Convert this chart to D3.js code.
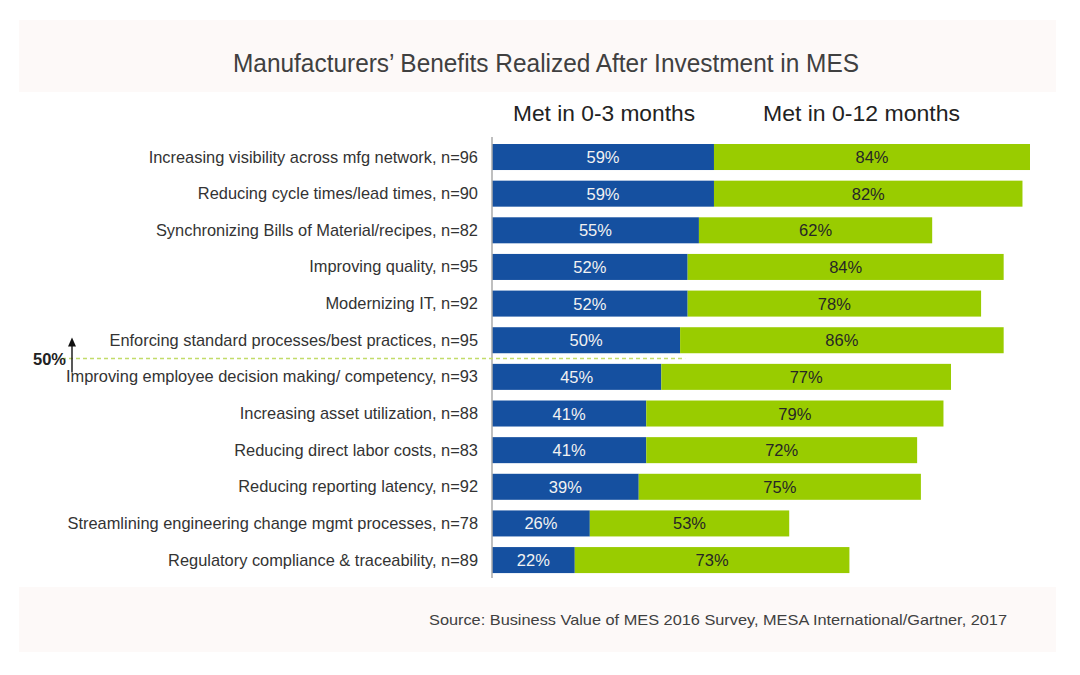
<!DOCTYPE html>
<html><head><meta charset="utf-8">
<script src="https://cdn.jsdelivr.net/npm/d3@7/dist/d3.min.js"></script>
<style>body{margin:0;background:#fff;} svg{display:block;font-family:"Liberation Sans",Arial,sans-serif;}</style>
</head><body>
<script>
const categories = [
  "Increasing visibility across mfg network, n=96",
  "Reducing cycle times/lead times, n=90",
  "Synchronizing Bills of Material/recipes, n=82",
  "Improving quality, n=95",
  "Modernizing IT, n=92",
  "Enforcing standard processes/best practices, n=95",
  "Improving employee decision making/ competency, n=93",
  "Increasing asset utilization, n=88",
  "Reducing direct labor costs, n=83",
  "Reducing reporting latency, n=92",
  "Streamlining engineering change mgmt processes, n=78",
  "Regulatory compliance & traceability, n=89"
];
const met3 = [59, 59, 55, 52, 52, 50, 45, 41, 41, 39, 26, 22];
const met12 = [84, 82, 62, 84, 78, 86, 77, 79, 72, 75, 53, 73];
const seriesNames = ["Met in 0-3 months", "Met in 0-12 months"];
const title = "Manufacturers\u2019 Benefits Realized After Investment in MES";
const source = "Source: Business Value of MES 2016 Survey, MESA International/Gartner, 2017";
const threshold = 50;

const W = 1080, H = 675;
const svg = d3.select("body").append("svg").attr("width", W).attr("height", H);

// background bands
svg.append("rect").attr("x", 19).attr("y", 20).attr("width", 1037).attr("height", 72).attr("fill", "#fdf9f8");
svg.append("rect").attr("x", 19).attr("y", 587).attr("width", 1037).attr("height", 65).attr("fill", "#fdf9f8");

svg.append("text").attr("x", 546).attr("y", 72).attr("text-anchor", "middle")
  .attr("font-size", 25).attr("fill", "#404040")
  .attr("textLength", 626).attr("lengthAdjust", "spacingAndGlyphs").text(title);

const x = d3.scaleLinear().domain([0, 143]).range([492, 1030]);
const y = d3.scaleBand().domain(categories).range([138.7, 578.4]).paddingInner(0.29).paddingOuter(0.145);

// legend
svg.append("text").attr("x", 513).attr("y", 121).attr("font-size", 22).attr("fill", "#222")
  .attr("textLength", 182).attr("lengthAdjust", "spacingAndGlyphs").text(seriesNames[0]);
svg.append("text").attr("x", 763).attr("y", 121).attr("font-size", 22).attr("fill", "#222")
  .attr("textLength", 197).attr("lengthAdjust", "spacingAndGlyphs").text(seriesNames[1]);

const rows = categories.map((c, i) => ({c, a: met3[i], b: met12[i]}));

const g = svg.append("g");
g.selectAll("rect.blue").data(rows).enter().append("rect").attr("class", "blue")
  .attr("x", x(0)).attr("y", d => y(d.c)).attr("width", d => x(d.a) - x(0)).attr("height", y.bandwidth())
  .attr("fill", "#1550a0");
g.selectAll("rect.green").data(rows).enter().append("rect").attr("class", "green")
  .attr("x", d => x(d.a)).attr("y", d => y(d.c)).attr("width", d => x(d.a + d.b) - x(d.a)).attr("height", y.bandwidth())
  .attr("fill", "#99cc00");

g.selectAll("text.bl").data(rows).enter().append("text")
  .attr("x", d => (x(0) + x(d.a)) / 2).attr("y", d => y(d.c) + y.bandwidth() / 2 + 6)
  .attr("text-anchor", "middle").attr("font-size", 16.5).attr("fill", "#f2f2f2").text(d => d.a + "%");
g.selectAll("text.gl").data(rows).enter().append("text")
  .attr("x", d => (x(d.a) + x(d.a + d.b)) / 2).attr("y", d => y(d.c) + y.bandwidth() / 2 + 6)
  .attr("text-anchor", "middle").attr("font-size", 16.5).attr("fill", "#262626").text(d => d.b + "%");

// category labels
g.selectAll("text.cat").data(rows).enter().append("text")
  .attr("x", 478).attr("y", d => y(d.c) + y.bandwidth() / 2 + 5.5)
  .attr("text-anchor", "end").attr("font-size", 16.4).attr("fill", "#333").text(d => d.c);

// axis line
svg.append("line").attr("x1", x(0)).attr("x2", x(0)).attr("y1", 137).attr("y2", 578)
  .attr("stroke", "#aaa").attr("stroke-width", 1.5);

// 50% threshold line between rows 5 and 6
const i5 = categories[5], i6 = categories[6];
const yT = (y(i5) + y.bandwidth() + y(i6)) / 2;
svg.append("line").attr("x1", 62).attr("x2", x(threshold) + 5).attr("y1", yT).attr("y2", yT)
  .attr("stroke", "#c2dc6a").attr("stroke-width", 1.5).attr("stroke-dasharray", "4,3");
svg.append("text").attr("x", 66).attr("y", yT + 6).attr("text-anchor", "end")
  .attr("font-size", 16.5).attr("font-weight", "bold").attr("fill", "#222").text(threshold + "%");
svg.append("line").attr("x1", 72).attr("x2", 72).attr("y1", yT + 14).attr("y2", yT - 16)
  .attr("stroke", "#111").attr("stroke-width", 1.4);
svg.append("path").attr("d", `M68,${yT - 12} L72,${yT - 21} L76,${yT - 12} Z`).attr("fill", "#111");

svg.append("text").attr("x", 718).attr("y", 625).attr("text-anchor", "middle")
  .attr("font-size", 15).attr("fill", "#404040")
  .attr("textLength", 578).attr("lengthAdjust", "spacingAndGlyphs").text(source);
</script>
</body></html>
